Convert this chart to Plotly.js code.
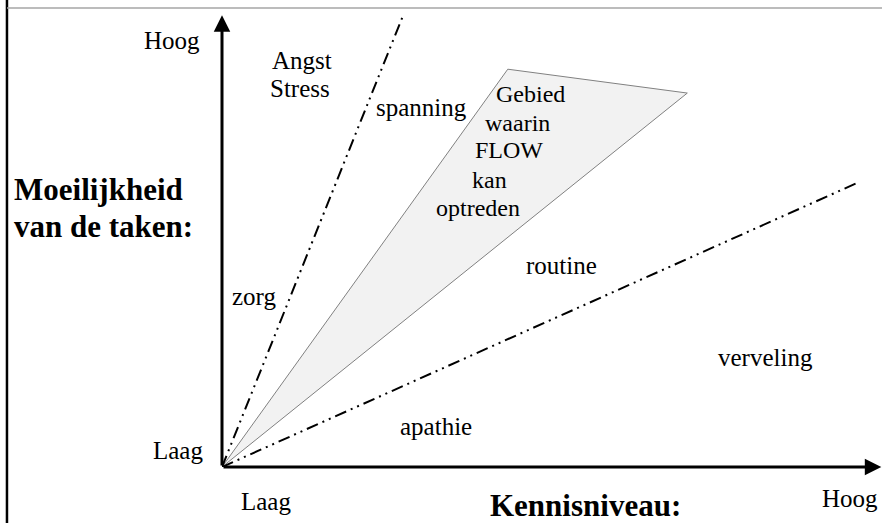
<!DOCTYPE html>
<html>
<head>
<meta charset="utf-8">
<script src="https://cdn.plot.ly/plotly-3.0.1.min.js"></script>
<style>html,body{margin:0;padding:0;background:#fff;}#chart{width:882px;height:523px;}</style>
</head>
<body>
<div id="chart"></div>
<script>
// Flow model (Kennisniveau vs Moeilijkheid), values in units 0-100
var flowX = [0, 43.3, 70.5, 0];
var flowY = [0, 88.4, 83.1, 0];
var stressLineX = [0, 27.4];
var stressLineY = [0, 100.2];
var boredomLineX = [0, 96.2];
var boredomLineY = [0, 63.1];
var axisEndX = 99.9;
var axisEndY = 100.4;

var regionLabels = ['Angst', 'Stress', 'spanning', 'Gebied', 'waarin', 'FLOW', 'kan', 'optreden', 'zorg', 'routine', 'verveling', 'apathie'];
var regionLabelX = [12.1, 11.8, 30.2, 46.7, 44.7, 43.5, 40.5, 38.8, 4.8, 51.5, 82.4, 32.4];
var regionLabelY = [90.4, 84.2, 79.8, 82.9, 76.4, 70.4, 63.8, 57.6, 37.8, 44.7, 24.4, 9.1];

// axis end labels (paper coordinates relative to the plot area)
var axisTickLabels = ['Hoog', 'Laag', 'Laag', 'Hoog'];
var axisTickX = [-0.0758, -0.0667, 0.0667, 0.9515];
var axisTickY = [0.930, 0.0349, -0.0741, -0.0697];

var yTitleLines = ['Moeilijkheid', 'van de taken:'];
var xTitle = 'Kennisniveau:';

var serif = "'Liberation Serif', 'Times New Roman', Times, serif";
var dashDotDot = '12px,5px,2px,5px,2px,5px';

var traces = [
  {x: flowX, y: flowY, type: 'scatter', mode: 'lines', fill: 'toself', fillcolor: '#f2f2f2',
   line: {color: '#808080', width: 1}, hoverinfo: 'skip'},
  {x: stressLineX, y: stressLineY, type: 'scatter', mode: 'lines',
   line: {color: '#000', width: 2, dash: dashDotDot}, hoverinfo: 'skip'},
  {x: boredomLineX, y: boredomLineY, type: 'scatter', mode: 'lines',
   line: {color: '#000', width: 2, dash: dashDotDot}, hoverinfo: 'skip'}
];

var annotations = [];
// axis arrows
annotations.push({x: 0, y: axisEndY, ax: 0, ay: 0, xref: 'x', yref: 'y', axref: 'x', ayref: 'y',
  showarrow: true, arrowhead: 2, arrowsize: 1.1, arrowwidth: 3, arrowcolor: '#000', text: ''});
annotations.push({x: axisEndX, y: 0, ax: 0, ay: 0, xref: 'x', yref: 'y', axref: 'x', ayref: 'y',
  showarrow: true, arrowhead: 2, arrowsize: 1.1, arrowwidth: 3, arrowcolor: '#000', text: ''});

for (var i = 0; i < regionLabels.length; i++) {
  annotations.push({x: regionLabelX[i], y: regionLabelY[i], xref: 'x', yref: 'y', text: regionLabels[i],
    showarrow: false, xanchor: 'center', yanchor: 'middle',
    font: {family: serif, size: (i >= 3 && i <= 7) ? 24 : 25, color: '#000'}});
}
for (var j = 0; j < axisTickLabels.length; j++) {
  annotations.push({x: axisTickX[j], y: axisTickY[j], xref: 'paper', yref: 'paper', text: axisTickLabels[j],
    showarrow: false, xanchor: 'center', yanchor: 'middle',
    font: {family: serif, size: 25, color: '#000'}});
}
annotations.push({x: -0.318, y: 0.6035, xref: 'paper', yref: 'paper', text: '<b>' + yTitleLines[0] + '</b>',
  showarrow: false, xanchor: 'left', yanchor: 'middle', font: {family: serif, size: 31, color: '#000'}});
annotations.push({x: -0.318, y: 0.524, xref: 'paper', yref: 'paper', text: '<b>' + yTitleLines[1] + '</b>',
  showarrow: false, xanchor: 'left', yanchor: 'middle', font: {family: serif, size: 31, color: '#000'}});
annotations.push({x: 0.5515, y: -0.0828, xref: 'paper', yref: 'paper', text: '<b>' + xTitle + '</b>',
  showarrow: false, xanchor: 'center', yanchor: 'middle', font: {family: serif, size: 31, color: '#000'}});

var shapes = [
  {type: 'line', xref: 'paper', yref: 'paper', x0: -0.3258, x1: -0.3258, y0: -0.125, y1: 1.02,
   line: {color: '#000', width: 2.5}},
  {type: 'line', xref: 'paper', yref: 'paper', x0: -0.3258, x1: 1.01, y0: 1.0, y1: 1.0,
   line: {color: '#a6a6a6', width: 1.5}}
];

var layout = {
  width: 882, height: 523,
  margin: {l: 222, r: 0, t: 8, b: 56, pad: 0},
  paper_bgcolor: '#fff', plot_bgcolor: '#fff',
  showlegend: false,
  xaxis: {range: [0, 100], visible: false, showgrid: false, zeroline: false, fixedrange: true},
  yaxis: {range: [0, 102], visible: false, showgrid: false, zeroline: false, fixedrange: true},
  annotations: annotations,
  shapes: shapes
};

Plotly.newPlot('chart', traces, layout, {staticPlot: true, displayModeBar: false});
</script>
</body>
</html>
